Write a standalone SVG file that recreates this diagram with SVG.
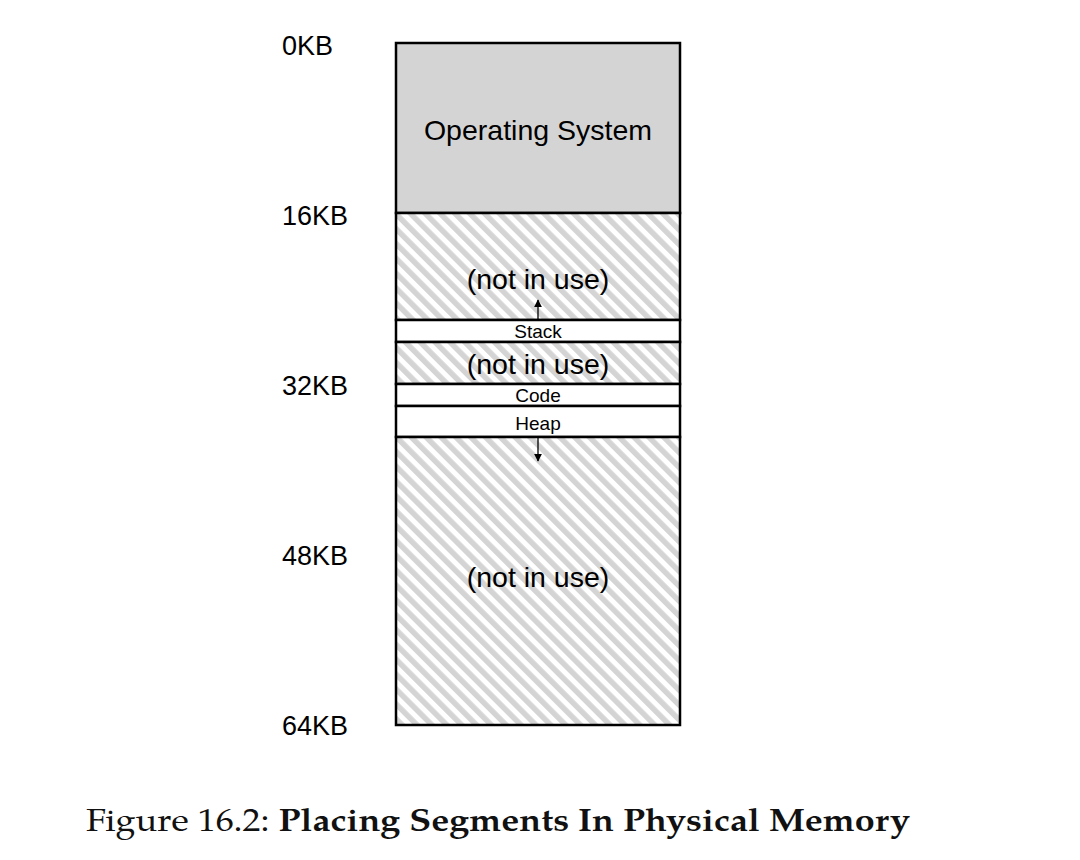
<svg xmlns="http://www.w3.org/2000/svg" width="1080" height="860" viewBox="0 0 1080 860">
<defs>
<pattern id="hatch" patternUnits="userSpaceOnUse" width="10.5" height="10.5" patternTransform="rotate(-45)">
<rect width="10.5" height="10.5" fill="#ffffff"/>
<rect width="5.5" height="10.5" fill="#d4d4d4"/>
</pattern>
<marker id="ah" viewBox="0 0 10 10" refX="9" refY="5" markerWidth="8" markerHeight="8" orient="auto" markerUnits="userSpaceOnUse">
<path d="M0,0 L10,5 L0,10 z" fill="#000"/>
</marker>
<style>
.lbl{font-family:"Liberation Sans",Arial,sans-serif;font-size:27px;fill:#000}
.big{font-family:"Liberation Sans",Arial,sans-serif;font-size:28.5px;fill:#000;text-anchor:middle}
.sm{font-family:"Liberation Sans",Arial,sans-serif;font-size:19px;fill:#000;text-anchor:middle}
.box{stroke:#000;stroke-width:2.5}
.free{fill:url(#hatch)}
.seg{fill:#fff}
</style>
</defs>
<rect width="1080" height="860" fill="#fff"/>
<g id="labels">
<text class="lbl" x="282" y="55">0KB</text>
<text class="lbl" x="282" y="225">16KB</text>
<text class="lbl" x="282" y="395">32KB</text>
<text class="lbl" x="282" y="565">48KB</text>
<text class="lbl" x="282" y="735">64KB</text>
</g>
<g id="os"><rect class="box" x="396" y="43" width="284" height="170" fill="#d4d4d4"/><text class="big" x="538" y="140">Operating System</text></g>
<g id="free1"><rect class="box free" x="396" y="213" width="284" height="107"/><text class="big" x="538" y="289">(not in use)</text></g>
<g id="stack"><rect class="box seg" x="396" y="320" width="284" height="22"/><text class="sm" x="538" y="338">Stack</text></g>
<g id="free2"><rect class="box free" x="396" y="342" width="284" height="42"/><text class="big" x="538" y="374">(not in use)</text></g>
<g id="code"><rect class="box seg" x="396" y="384" width="284" height="22"/><text class="sm" x="538" y="402">Code</text></g>
<g id="heap"><rect class="box seg" x="396" y="406" width="284" height="31"/><text class="sm" x="538" y="430">Heap</text></g>
<g id="free3"><rect class="box free" x="396" y="437" width="284" height="288"/><text class="big" x="538" y="587">(not in use)</text></g>
<g id="connectors" stroke="#000" stroke-width="1.3" fill="none">
<line x1="538" y1="320" x2="538" y2="300" marker-end="url(#ah)"/>
<line x1="538" y1="437" x2="538" y2="461" marker-end="url(#ah)"/>
</g>
<text x="86" y="831" font-family="'TeX Gyre Pagella','Palatino Linotype','Liberation Serif',serif" font-size="32" fill="#111" textLength="824" lengthAdjust="spacingAndGlyphs">Figure 16.2: <tspan font-weight="bold">Placing Segments In Physical Memory</tspan></text>
</svg>
